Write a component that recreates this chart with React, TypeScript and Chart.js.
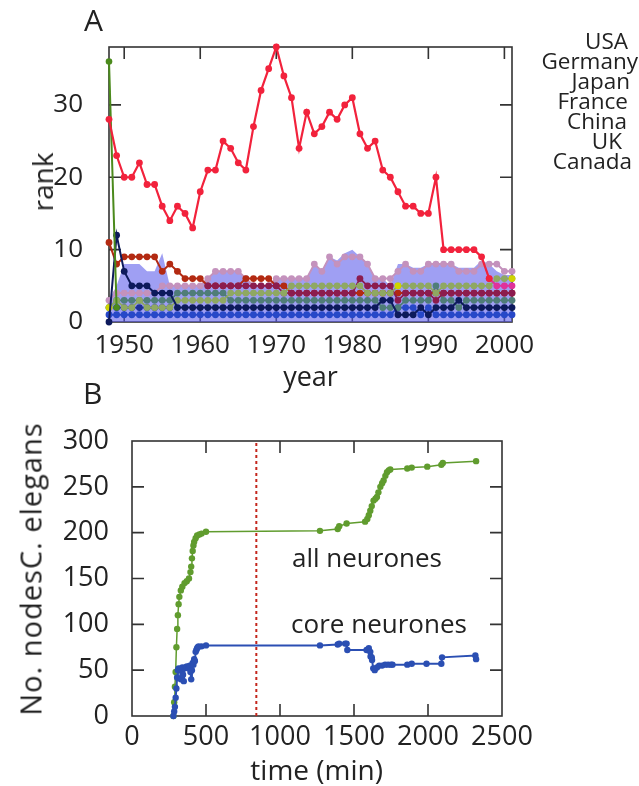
import React, { useEffect, useRef } from "react";
import { Chart, registerables } from "chart.js";

Chart.register(...registerables);

const FONT = "'Open Sans', 'Noto Sans', sans-serif";
const INK = "#222222";

// ---------- Panel A : rank by year ----------
const YEARS = [
  1948, 1949, 1950, 1951, 1952, 1953, 1954, 1955, 1956, 1957,
  1958, 1959, 1960, 1961, 1962, 1963, 1964, 1965, 1966, 1967,
  1968, 1969, 1970, 1971, 1972, 1973, 1974, 1975, 1976, 1977,
  1978, 1979, 1980, 1981, 1982, 1983, 1984, 1985, 1986, 1987,
  1988, 1989, 1990, 1991, 1992, 1993, 1994, 1995, 1996, 1997,
  1998, 1999, 2000, 2001,
];
const N = null;
const RED = [
  28, 23, 20, 20, 22, 19, 19, 16, 14, 16,
  15, 13, 18, 21, 21, 25, 24, 22, 21, 27,
  32, 35, 38, 34, 31, 24, 29, 26, 27, 29,
  28, 30, 31, 26, 24, 25, 21, 20, 18, 16,
  16, 15, 15, 20, 10, 10, 10, 10, 10, 9,
  6, N, N, N,
];
const PINK = [
  N, N, N, N, N, N, N, N, N, N,
  N, N, N, N, N, N, N, N, N, N,
  N, N, N, N, N, N, N, N, N, N,
  N, N, N, N, N, N, N, N, N, N,
  N, N, N, N, N, N, N, N, N, N,
  6, 5, 5, 5,
];
const GREEN = [
  36, 2, N, N, N, N, N, N, N, N,
  N, N, N, N, N, N, N, N, N, N,
  N, N, N, N, N, N, N, N, N, N,
  N, N, N, N, N, N, N, N, N, N,
  N, N, N, N, N, N, N, N, N, N,
  N, N, N, N,
];
const NAVY = [
  0, 12, 7, 5, 5, 5, 4, 4, 4, 2,
  2, 2, 2, 2, 2, 2, 2, 2, 2, 2,
  2, 2, 2, 2, 2, 2, 2, 2, 2, 2,
  2, 2, 2, 2, 2, 2, 3, 3, 1, 1,
  1, 2, 1, 2, 2, 2, 3, 2, 2, 2,
  2, 2, 2, 2,
];
const YELLOW = [
  2, N, N, N, N, N, N, N, N, N,
  N, N, N, N, N, N, N, N, N, N,
  N, N, N, N, N, N, N, N, N, N,
  N, N, N, N, N, N, N, N, 5, N,
  N, N, N, N, N, N, N, N, N, N,
  N, N, N, 6,
];
const OLIVE = [
  2, 3, 2, 2, 3, 2, 2, 2, 2, 3,
  3, 3, 3, 3, 3, 3, 4, 4, 4, 4,
  4, 4, 4, 4, 5, 5, 5, 5, 5, 5,
  5, 5, 5, 5, 4, 4, 4, 4, 5, 5,
  5, 5, 5, 4, 5, 5, 5, 5, 5, 5,
  5, 6, 6, 6,
];
const MAROON = [
  N, N, N, N, N, N, N, N, N, N,
  N, N, N, 5, 5, 5, 5, 5, 5, 5,
  5, 5, 5, 4, 4, 4, 4, 4, 4, 4,
  4, 4, 4, 6, 5, 5, 5, 5, 3, 4,
  4, 4, 4, 3, 4, 4, 4, 4, 4, 4,
  4, 4, 4, 4,
];
const BRICK = [
  11, 8, 9, 9, 9, 9, 9, 7, 8, 7,
  6, 6, 6, 5, 5, 5, 5, 5, 6, 6,
  6, 6, 5, 5, 4, 4, 4, 4, 4, 4,
  4, 4, 4, 4, 4, 4, 4, 4, 4, 4,
  4, 4, 4, 4, 4, 4, 4, 4, 4, 4,
  4, 4, 4, 4,
];
const TEAL = [
  2, 3, 3, 3, 3, 3, 3, 3, 3, 4,
  4, 4, 4, 4, 4, 4, 3, 3, 3, 3,
  3, 3, 3, 3, 3, 3, 3, 3, 3, 3,
  3, 3, 3, 3, 3, 3, 2, 2, 2, 3,
  3, 3, 3, 5, 3, 3, 2, 3, 3, 3,
  3, 3, 3, 3,
];
const MAUVE = [
  3, 4, 4, 4, 4, 4, 4, 5, 5, 5,
  5, 5, 5, 6, 7, 7, 7, 7, 6, 5,
  5, 5, 6, 6, 6, 6, 6, 8, 7, 9,
  8, 9, 9, 9, 8, 6, 6, 6, 7, 8,
  7, 7, 8, 8, 8, 8, 7, 7, 7, 8,
  8, 8, 7, 7,
];
const BLUE2 = [
  N, 2, 2, 2, 2, 2, 2, 2, 2, N,
  N, N, N, N, N, N, N, N, N, N,
  N, N, N, N, N, N, N, N, N, N,
  N, N, N, N, N, N, N, N, N, N,
  N, N, N, N, N, N, N, N, N, N,
  N, N, N, N,
];
const BLUE1 = [
  1, 1, 1, 1, 1, 1, 1, 1, 1, 1,
  1, 1, 1, 1, 1, 1, 1, 1, 1, 1,
  1, 1, 1, 1, 1, 1, 1, 1, 1, 1,
  1, 1, 1, 1, 1, 1, 1, 1, 2, 2,
  2, 1, 2, 1, 1, 1, 1, 1, 1, 1,
  1, 1, 1, 1,
];
const SHADE = [
  3, 5, 8, 8, 8, 7, 7, 9.5, 5, 5,
  5, 5, 5, 6, 7, 7, 7, 7, 6, 5,
  5, 5, 6, 6, 6, 6, 6, 8, 7, 9,
  8.5, 9.5, 10, 9, 8, 6, 6, 5, 8, 8,
  7.5, 7.5, 8, 8, 8, 8, 7.5, 7.5, 7.5, 8.5,
  8, 7, 6.5, 6.5,
];
const LEGEND_NAMES = ["USA", "Germany", "Japan", "France", "China", "UK", "Canada"];

// ---------- Panel B : C. elegans nodes over time ----------
const ALL_T = [
  280, 285, 290, 295, 300, 305, 310, 315, 320, 330,
  340, 355, 370, 385, 395, 400, 405, 410, 415, 420,
  430, 440, 455, 470, 500, 1270, 1390, 1400, 1450, 1575,
  1590, 1600, 1610, 1620, 1632, 1645, 1655, 1665, 1678, 1690,
  1700, 1712, 1723, 1735, 1745, 1860, 1890, 1995, 2090, 2100,
  2325,
];
const ALL_N = [
  0, 15, 32, 48, 75, 95, 110, 122, 130, 137,
  141, 145, 147, 150, 157, 163, 172, 180, 186, 190,
  194, 197, 198, 199, 201, 202, 204, 207, 210, 212,
  215, 219, 224, 229, 235, 237, 239, 244, 250, 254,
  257, 262, 266, 268, 269, 270, 271, 272, 274, 276,
  278,
];
const CORE_T = [
  280, 285, 290, 295, 300, 305, 310, 315, 325, 330,
  335, 340, 345, 350, 355, 360, 370, 380, 385, 390,
  395, 400, 405, 410, 415, 420, 425, 430, 435, 440,
  445, 450, 470, 500, 1270, 1390, 1400, 1440, 1450, 1455,
  1585, 1600, 1610, 1612, 1620, 1622, 1630, 1640, 1655, 1670,
  1690, 1710, 1730, 1750, 1760, 1860, 1890, 1990, 2090, 2095,
  2320, 2325,
];
const CORE_N = [
  0, 5, 10, 20, 30, 42, 50, 52, 50, 40,
  52, 53, 45, 38, 52, 53, 54, 52, 53, 55,
  48, 40, 50, 58, 56, 62, 60, 70, 72, 74,
  75, 76, 76, 77, 77, 78, 79, 79, 79, 72,
  72, 74, 70, 65, 64, 61, 52, 50, 53, 55,
  55, 56, 56, 56, 56, 56, 57, 57, 57, 64,
  66, 62,
];
const CUT_TIME = [840, 840];
const CUT_RANGE = [0, 300];

// ---------- helpers ----------
const framePlugin = {
  id: "frame",
  beforeDatasetsDraw(chart: any, _a: any, opts: any) {
    const { ctx, chartArea: a } = chart;
    const len = (opts && opts.len) || 12;
    const xs = chart.scales.x;
    const ys = chart.scales.y;
    ctx.save();
    ctx.strokeStyle = "#333333";
    ctx.lineWidth = 1.6;
    ctx.beginPath();
    for (const t of xs.ticks) {
      const p = xs.getPixelForValue(t.value);
      if (p < a.left + 2 || p > a.right - 2) continue;
      ctx.moveTo(p, a.bottom);
      ctx.lineTo(p, a.bottom - len);
      ctx.moveTo(p, a.top);
      ctx.lineTo(p, a.top + len);
    }
    for (const t of ys.ticks) {
      const p = ys.getPixelForValue(t.value);
      if (p < a.top + 2 || p > a.bottom - 2) continue;
      ctx.moveTo(a.left, p);
      ctx.lineTo(a.left + len, p);
      ctx.moveTo(a.right, p);
      ctx.lineTo(a.right - len, p);
    }
    ctx.stroke();
    ctx.strokeRect(a.left, a.top, a.right - a.left, a.bottom - a.top);
    ctx.restore();
  },
};

const pts = (xs: number[], ys: (number | null)[]) =>
  xs.map((x, i) => ({ x, y: ys[i] }));

function rankSeries(vals: (number | null)[], color: string, width = 1.6, radius = 3.3) {
  return {
    data: pts(YEARS, vals),
    borderColor: color,
    backgroundColor: color,
    pointBackgroundColor: color,
    pointBorderWidth: 0,
    pointRadius: radius,
    borderWidth: width,
    fill: false,
    spanGaps: false,
    clip: false as any,
  };
}

function axisStyle(size: number, pad: number) {
  return {
    grid: { display: false, drawTicks: false },
    border: { display: false },
    ticks: {
      font: { family: FONT, size },
      color: INK,
      padding: pad,
      maxRotation: 0,
      autoSkip: false,
      includeBounds: false,
      callback: (v: any) => String(v),
    },
  };
}

function useChart(ref: React.RefObject<HTMLCanvasElement>, make: () => any) {
  useEffect(() => {
    if (!ref.current) return;
    const chart = new Chart(ref.current, make());
    return () => chart.destroy();
  }, []);
}

function PanelA() {
  const ref = useRef<HTMLCanvasElement>(null);
  useChart(ref, () => {
    const ax = axisStyle(26, 8);
    const ay = axisStyle(26, 26);
    return {
      type: "line",
      data: {
        datasets: [
          rankSeries(RED, "#f2223c", 2.2, 3.4),
          rankSeries(PINK, "#e0329a", 2, 3.4),
          rankSeries(GREEN, "#4b8a1c", 2, 3.3),
          rankSeries(NAVY, "#0d1a5c", 2, 3.4),
          rankSeries(YELLOW, "#d0d400", 2, 3.4),
          rankSeries(OLIVE, "#8fa862", 1.8, 3.4),
          rankSeries(MAROON, "#8c1c4e", 1.8, 3.4),
          rankSeries(BRICK, "#b32a12", 2, 3.4),
          rankSeries(TEAL, "#4f7d78", 1.8, 3.4),
          rankSeries(MAUVE, "#c492bd", 2, 3.4),
          rankSeries(BLUE2, "#1c2f96", 1.8, 3.4),
          rankSeries(BLUE1, "#2748c8", 1.8, 3.4),
          {
            data: pts(YEARS, SHADE),
            borderWidth: 0,
            borderColor: "rgba(0,0,0,0)",
            backgroundColor: "rgba(90,90,235,0.58)",
            pointRadius: 0,
            fill: "origin",
            clip: false as any,
          },
        ],
      },
      options: {
        responsive: false,
        animation: false,
        devicePixelRatio: 1,
        events: [],
        layout: { padding: { top: 47, right: 127, left: 0, bottom: 0 } },
        plugins: { legend: { display: false }, tooltip: { enabled: false }, frame: { len: 12 } },
        scales: {
          x: {
            type: "linear",
            min: 1948,
            max: 2001,
            ...ax,
            ticks: { ...ax.ticks, stepSize: 10 },
            afterFit: (s: any) => { s.height = 58; },
          },
          y: {
            type: "linear",
            min: 0,
            max: 38,
            ...ay,
            ticks: { ...ay.ticks, stepSize: 10 },
            afterFit: (s: any) => { s.width = 109; },
          },
        },
      },
      plugins: [framePlugin],
    };
  });
  return (
    <canvas
      ref={ref}
      width={639}
      height={380}
      style={{ position: "absolute", left: 0, top: 0, width: 639, height: 380, display: "block" }}
    />
  );
}

function PanelB() {
  const ref = useRef<HTMLCanvasElement>(null);
  useChart(ref, () => {
    const ax = axisStyle(27, 5);
    const ay = axisStyle(27, 23);
    return {
      type: "line",
      data: {
        datasets: [
          {
            data: pts(CUT_TIME, CUT_RANGE),
            borderColor: "#c4261c",
            borderWidth: 2,
            borderDash: [3, 3],
            pointRadius: 0,
            fill: false,
          },
          {
            data: pts(CORE_T, CORE_N),
            borderColor: "#2b4fb3",
            backgroundColor: "#2b4fb3",
            pointBackgroundColor: "#2b4fb3",
            pointBorderWidth: 0,
            pointRadius: 3.2,
            borderWidth: 2,
            fill: false,
            clip: false as any,
          },
          {
            data: pts(ALL_T, ALL_N),
            borderColor: "#609c2e",
            backgroundColor: "#609c2e",
            pointBackgroundColor: "#609c2e",
            pointBorderWidth: 0,
            pointRadius: 3.2,
            borderWidth: 1.5,
            fill: false,
            clip: false as any,
          },
        ],
      },
      options: {
        responsive: false,
        animation: false,
        devicePixelRatio: 1,
        events: [],
        layout: { padding: { top: 61, right: 137, left: 0, bottom: 0 } },
        plugins: { legend: { display: false }, tooltip: { enabled: false }, frame: { len: 12 } },
        scales: {
          x: {
            type: "linear",
            min: 0,
            max: 2500,
            ...ax,
            ticks: { ...ax.ticks, stepSize: 500 },
            afterFit: (s: any) => { s.height = 70; },
          },
          y: {
            type: "linear",
            min: 0,
            max: 300,
            ...ay,
            ticks: { ...ay.ticks, stepSize: 50 },
            afterFit: (s: any) => { s.width = 132; },
          },
        },
      },
      plugins: [framePlugin],
    };
  });
  return (
    <canvas
      ref={ref}
      width={639}
      height={406}
      style={{ position: "absolute", left: 0, top: 380, width: 639, height: 406, display: "block" }}
    />
  );
}

// text positioned by its baseline (Open Sans, line-height 1: baseline ~ 0.888em below top)
const base = (size: number, baseline: number) => baseline - 0.888 * size;

export default function App() {
  const legendRight = [628, 638, 630, 628, 627, 622, 632];
  const legendBase = [50, 70, 90, 110, 130, 150, 170];
  const common: React.CSSProperties = {
    position: "absolute",
    lineHeight: 1,
    whiteSpace: "nowrap",
    fontFamily: FONT,
    color: INK,
  };
  return (
    <div
      style={{
        position: "absolute",
        left: 0,
        top: 0,
        width: 639,
        height: 786,
        background: "#fff",
        overflow: "hidden",
        fontFamily: FONT,
      }}
    >
      <PanelA />
      <PanelB />
      <div style={{ ...common, left: 84, top: base(30, 32), fontSize: 30 }}>A</div>
      <div style={{ ...common, left: 83, top: base(30, 405), fontSize: 30 }}>B</div>
      {LEGEND_NAMES.map((name, i) => (
        <div
          key={name}
          style={{ ...common, right: 639 - legendRight[i], top: base(22.5, legendBase[i]), fontSize: 22.5 }}
        >
          {name}
        </div>
      ))}
      <div
        style={{
          ...common,
          left: 42,
          top: 182,
          fontSize: 28,
          transform: "translate(-50%, -50%) rotate(-90deg)",
        }}
      >
        rank
      </div>
      <div style={{ ...common, left: 310.5, top: base(27, 386), fontSize: 27, transform: "translateX(-50%)" }}>
        year
      </div>
      <div
        style={{
          ...common,
          left: 30,
          top: 569,
          fontSize: 29,
          letterSpacing: 1,
          transform: "translate(-50%, -50%) rotate(-90deg)",
        }}
      >
        No. nodesC. elegans
      </div>
      <div style={{ ...common, left: 316.7, top: base(28, 780), fontSize: 28, transform: "translateX(-50%)" }}>
        time (min)
      </div>
      <div style={{ ...common, left: 367, top: base(26, 567), fontSize: 26, transform: "translateX(-50%)" }}>
        all neurones
      </div>
      <div style={{ ...common, left: 379, top: base(26, 633), fontSize: 26, transform: "translateX(-50%)" }}>
        core neurones
      </div>
    </div>
  );
}
